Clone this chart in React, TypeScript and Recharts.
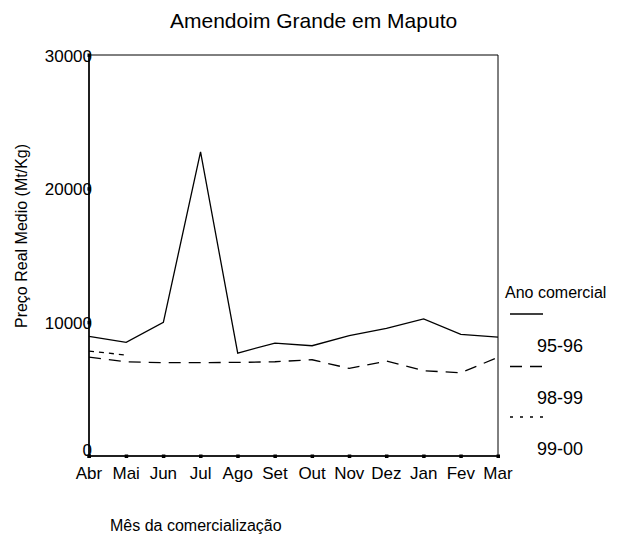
import { LineChart, Line, XAxis, YAxis, ReferenceArea } from "recharts";

const months = ["Abr", "Mai", "Jun", "Jul", "Ago", "Set", "Out", "Nov", "Dez", "Jan", "Fev", "Mar"];
const s9596 = [8950, 8500, 10000, 22750, 7700, 8450, 8250, 9000, 9550, 10250, 9100, 8900];
const s9899 = [7400, 7050, 6980, 6990, 7000, 7050, 7200, 6550, 7100, 6380, 6230, 7380];
const s9900 = [7850, 7550, null, null, null, null, null, null, null, null, null, null];
const yTicks = [0, 10000, 20000, 30000];
const legendItems = ["95-96", "98-99", "99-00"];

const FONT = "'Liberation Sans', Arial, sans-serif";

const chartData = months.map((m, i) => ({
  month: m,
  a: s9596[i],
  b: s9899[i],
  c: s9900[i],
}));

function XTick({ x, y, payload }: any) {
  return (
    <g>
      <rect x={x - 1.5} y={y - 1.5} width={3.5} height={3.5} fill="#000" />
      <text x={x} y={y + 23} textAnchor="middle" fontSize={17} fontFamily={FONT} fill="#000">
        {payload.value}
      </text>
    </g>
  );
}

function YTick({ x, y, payload }: any) {
  // the zero label sits a little above its tick, clear of the month labels
  const shift = payload.value === 0 ? -7 : 0;
  return (
    <g>
      <text x={x + 3} y={y + 6.5 + shift} textAnchor="end" fontSize={17} fontFamily={FONT} fill="#000">
        {payload.value}
      </text>
      <rect x={x - 1.5} y={y - 1.5} width={3.5} height={3.5} fill="#000" />
    </g>
  );
}

export default function App() {
  return (
    <div style={{ position: "absolute", left: 0, top: 0, width: 625, height: 537, background: "#fff" }}>
      <LineChart
        width={625}
        height={537}
        data={chartData}
        margin={{ top: 55, right: 127, bottom: 51, left: 29 }}
      >
        <XAxis
          dataKey="month"
          height={30}
          tickSize={0}
          tickMargin={0}
          tickLine={false}
          axisLine={{ stroke: "#000", strokeWidth: 1.5 }}
          tick={<XTick />}
          interval={0}
        />
        <YAxis
          width={60}
          domain={[0, 30000]}
          ticks={yTicks}
          tickSize={0}
          tickMargin={0}
          tickLine={false}
          axisLine={{ stroke: "#000", strokeWidth: 1.5 }}
          tick={<YTick />}
        />
        <ReferenceArea x1="Abr" x2="Mar" y1={0} y2={30000} fill="none" stroke="#000" strokeWidth={1} ifOverflow="visible" />
        <Line dataKey="a" stroke="#000" strokeWidth={1.3} dot={false} isAnimationActive={false} />
        <Line dataKey="b" stroke="#000" strokeWidth={1.3} strokeDasharray="12 8" dot={false} isAnimationActive={false} />
        <Line dataKey="c" stroke="#000" strokeWidth={1.3} strokeDasharray="5 5" dot={false} isAnimationActive={false} />
        <text x={170} y={28} fontSize={21} fontFamily={FONT} fill="#000">
          Amendoim Grande em Maputo
        </text>
        <text
          transform="translate(27,236) rotate(-90)"
          textAnchor="middle"
          fontSize={16}
          fontFamily={FONT}
          fill="#000"
        >
          Preço Real Medio (Mt/Kg)
        </text>
        <text x={110} y={531} fontSize={16} fontFamily={FONT} fill="#000">
          Mês da comercialização
        </text>
        <g fontFamily={FONT} fill="#000">
          <text x={505} y={298} fontSize={16}>Ano comercial</text>
          <line x1={510} x2={543} y1={314} y2={314} stroke="#000" strokeWidth={1.3} />
          <line x1={510} x2={543} y1={366.5} y2={366.5} stroke="#000" strokeWidth={1.3} strokeDasharray="12 8" />
          <line x1={510} x2={543} y1={417} y2={417} stroke="#000" strokeWidth={1.3} strokeDasharray="3 7" />
          {legendItems.map((t, i) => (
            <text key={t} x={537} y={352 + i * 51.5} fontSize={18}>
              {t}
            </text>
          ))}
        </g>
      </LineChart>
    </div>
  );
}
